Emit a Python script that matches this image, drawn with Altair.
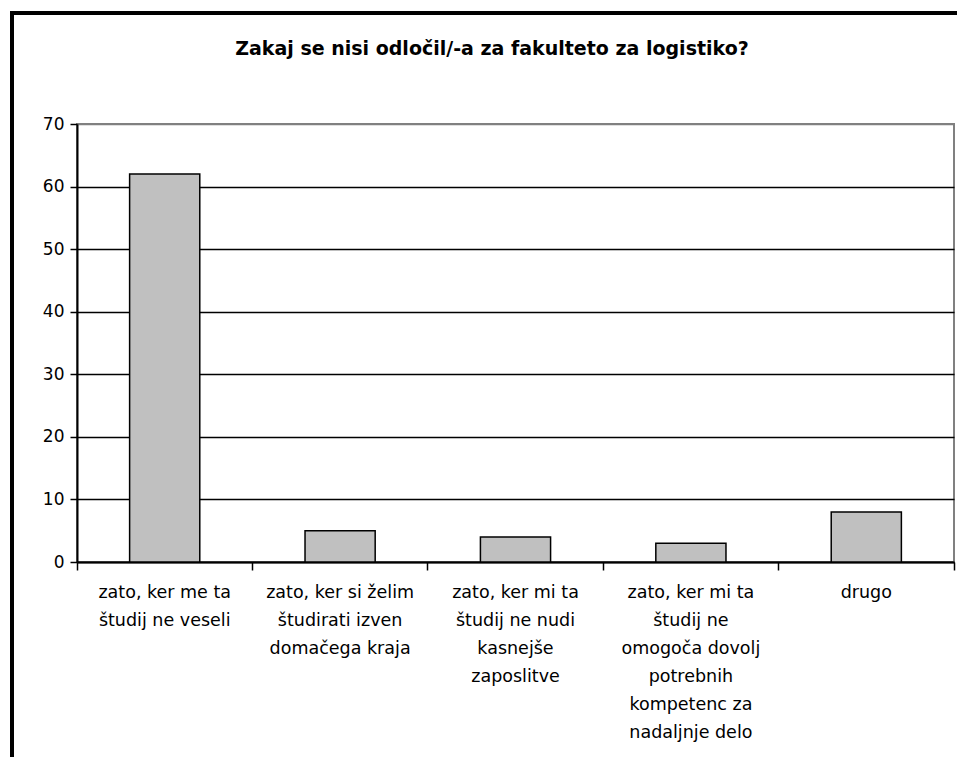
import altair as alt
import pandas as pd

categories = [
    "zato, ker me ta\nštudij ne veseli",
    "zato, ker si želim\nštudirati izven\ndomačega kraja",
    "zato, ker mi ta\nštudij ne nudi\nkasnejše\nzaposlitve",
    "zato, ker mi ta\nštudij ne\nomogoča dovolj\npotrebnih\nkompetenc za\nnadaljnje delo",
    "drugo",
]
values = [62, 5, 4, 3, 8]
title_text = "Zakaj se nisi odločil/-a za fakulteto za logistiko?"

df = pd.DataFrame({"cat": categories, "val": values})
FONT = "DejaVu Sans"
W = 877

bars = alt.Chart(df).mark_bar(
    fill="#C0C0C0", stroke="black", strokeWidth=1.5,
    width=alt.RelativeBandSize(0.4),
).encode(
    x=alt.X(
        "cat:N", sort=categories, title=None,
        scale=alt.Scale(paddingInner=0, paddingOuter=0),
        axis=alt.Axis(
            labelAngle=0, labelExpr="split(datum.label, '\\n')",
            labelFont=FONT, labelFontSize=17.5, labelLineHeight=28,
            labelColor="black", labelPadding=13, labelLimit=300,
            bandPosition=1, tickExtra=True,
            ticks=True, tickSize=8, tickColor="black", tickWidth=1.5,
            domainColor="black", domainWidth=2, grid=False,
        ),
    ),
    y=alt.Y(
        "val:Q", title=None,
        scale=alt.Scale(domain=[0, 70], nice=False),
        axis=alt.Axis(
            values=[0, 10, 20, 30, 40, 50, 60, 70],
            labelFont=FONT, labelFontSize=17, labelColor="black",
            labelPadding=6, tickSize=7, tickColor="black", tickWidth=1.5,
            domainColor="black", domainWidth=2,
            grid=True, gridWidth=1.5,
            gridColor=alt.condition("datum.value == 70", alt.value("#808080"), alt.value("black")),
        ),
    ),
)

frame_df = pd.DataFrame({"k": [0]})
left_line = alt.Chart(frame_df).mark_rule(color="black", strokeWidth=4).encode(
    x=alt.value(-65), y=alt.value(-113), y2=alt.value(700)
)
top_line = alt.Chart(frame_df).mark_rule(color="black", strokeWidth=4).encode(
    x=alt.value(-67), x2=alt.value(900), y=alt.value(-111)
)
title = alt.Chart(pd.DataFrame({"t": [title_text]})).mark_text(
    font=FONT, fontSize=19, fontWeight="bold", color="black",
    align="center", baseline="alphabetic"
).encode(text="t:N", x=alt.value(415), y=alt.value(-69))

chart = alt.layer(bars, left_line, top_line, title).properties(
    width=W, height=438,
    autosize=alt.AutoSizeParams(type="none"),
    padding={"left": 69, "top": 116, "right": 3, "bottom": 195},
).configure_view(stroke="#808080", strokeWidth=2)

chart.save("out.html", embed_options={"renderer": "svg", "actions": False})
